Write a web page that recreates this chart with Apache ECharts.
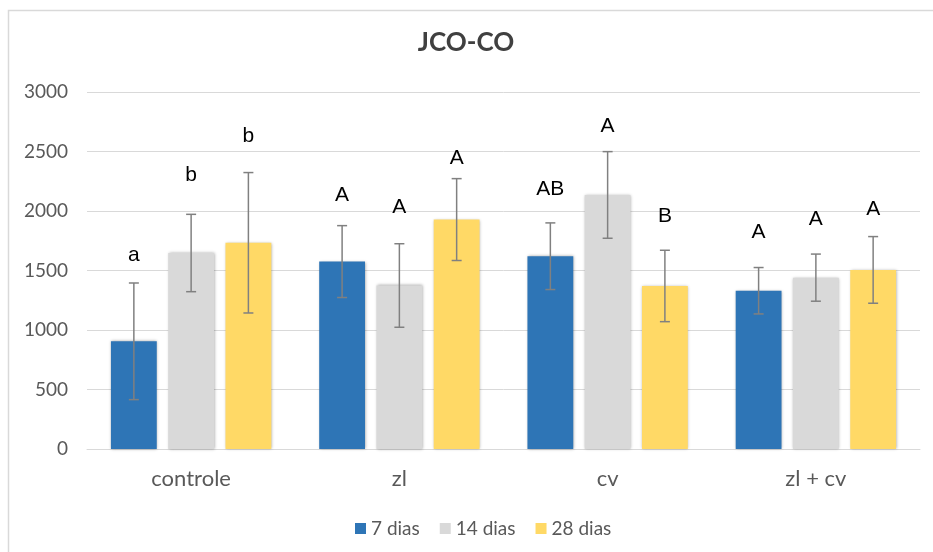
<!DOCTYPE html>
<html>
<head>
<meta charset="utf-8">
<script src="https://cdn.jsdelivr.net/npm/echarts@6/dist/echarts.min.js"></script>
<style>
html,body{margin:0;padding:0;background:#fff;}
#chart{width:933px;height:552px;}
</style>
</head>
<body>
<div id="chart"></div>
<script>
var categories = ['controle', 'zl', 'cv', 'zl + cv'];
var seriesNames = ['7 dias', '14 dias', '28 dias'];
var mean7 = [905, 1575, 1620, 1330];
var mean14 = [1647, 1374, 2135, 1440];
var mean28 = [1733, 1928, 1370, 1505];
var err7 = [490, 302, 280, 195];
var err14 = [325, 351, 364, 198];
var err28 = [590, 344, 300, 280];
var letters7 = ['a', 'A', 'AB', 'A'];
var letters14 = ['b', 'A', 'A', 'A'];
var letters28 = ['b', 'A', 'B', 'A'];
var letterPos7 = [1630, 2134, 2185, 1826];
var letterPos14 = [2303, 2036, 2714, 1933];
var letterPos28 = [2630, 2445, 1958, 2017];
var yTicks = [0, 500, 1000, 1500, 2000, 2500, 3000];

var colors = ['#2E75B6', '#D9D9D9', '#FFD966'];
var means = [mean7, mean14, mean28];
var errs = [err7, err14, err28];
var letters = [letters7, letters14, letters28];
var letterPos = [letterPos7, letterPos14, letterPos28];

var BAR_W_RATIO = 0.22;
var BAR_GAP = 0.25;

var errData = [];
var letterData = [];
for (var s = 0; s < 3; s++) {
  for (var c = 0; c < categories.length; c++) {
    errData.push([c, s, means[s][c], errs[s][c]]);
    letterData.push([c, s, letterPos[s][c], letters[s][c]]);
  }
}

function offsetFor(api, s) {
  var band = api.size([1, 0])[0];
  var bw = band * BAR_W_RATIO;
  return (s - 1) * bw * (1 + BAR_GAP);
}

var chart = echarts.init(document.getElementById('chart'), null, {renderer: 'canvas'});
var barSeries = seriesNames.map(function (name, i) {
  return {
    name: name,
    type: 'bar',
    data: means[i],
    barWidth: (BAR_W_RATIO * 100) + '%',
    barGap: (BAR_GAP * 100) + '%',
    itemStyle: {
      color: colors[i],
      shadowColor: 'rgba(0,0,0,0.35)',
      shadowBlur: 3,
      shadowOffsetX: 0.5,
      shadowOffsetY: 0
    },
    emphasis: {disabled: true},
    z: 2
  };
});

var option = {
  backgroundColor: '#fff',
  animation: false,
  title: {
    text: 'JCO-CO',
    left: 461,
    top: 25,
    textAlign: 'center',
    textStyle: {fontFamily: 'Lato', fontWeight: 'bold', fontSize: 26, color: '#404040'}
  },
  legend: {
    data: seriesNames,
    top: 514,
    left: 350,
    itemWidth: 11,
    itemHeight: 11,
    itemGap: 20,
    icon: 'rect',
    textStyle: {fontFamily: 'Lato', fontSize: 19, color: '#595959'}
  },
  grid: {left: 87, right: 13, top: 92, bottom: 103, containLabel: false},
  xAxis: {
    type: 'category',
    data: categories,
    axisTick: {show: false},
    axisLine: {lineStyle: {color: '#D9D9D9', width: 1}},
    axisLabel: {fontFamily: 'Lato', fontSize: 22, color: '#595959', margin: 19}
  },
  yAxis: {
    type: 'value',
    min: yTicks[0],
    max: yTicks[yTicks.length - 1],
    interval: 500,
    axisLine: {show: false},
    axisTick: {show: false},
    splitLine: {lineStyle: {color: '#D9D9D9', width: 1}},
    axisLabel: {
      fontFamily: 'Lato', fontSize: 19, color: '#595959', margin: 19,
      formatter: function (v) { return String(v); }
    }
  },
  graphic: [{
    type: 'polyline',
    shape: {points: [[8.5, 552], [8.5, 10.5], [933, 10.5]]},
    style: {stroke: '#D9D9D9', lineWidth: 1.5, fill: null},
    silent: true
  }],
  series: barSeries.concat([
    {
      type: 'custom',
      name: 'err',
      data: errData,
      z: 5,
      silent: true,
      renderItem: function (params, api) {
        var c = api.value(0), s = api.value(1), m = api.value(2), e = api.value(3);
        var off = offsetFor(api, s);
        var hi = api.coord([c, m + e]);
        var lo = api.coord([c, m - e]);
        var x = hi[0] + off;
        var cap = 5;
        var st = {stroke: '#808080', lineWidth: 1.5};
        return {
          type: 'group',
          children: [
            {type: 'line', shape: {x1: x, y1: hi[1], x2: x, y2: lo[1]}, style: st},
            {type: 'line', shape: {x1: x - cap, y1: hi[1], x2: x + cap, y2: hi[1]}, style: st},
            {type: 'line', shape: {x1: x - cap, y1: lo[1], x2: x + cap, y2: lo[1]}, style: st}
          ]
        };
      }
    },
    {
      type: 'custom',
      name: 'letters',
      data: letterData,
      z: 6,
      silent: true,
      renderItem: function (params, api) {
        var c = api.value(0), s = api.value(1), v = api.value(2);
        var txt = letterData[params.dataIndex][3];
        var off = offsetFor(api, s);
        var p = api.coord([c, v]);
        return {
          type: 'text',
          style: {
            text: txt,
            x: p[0] + off,
            y: p[1],
            textAlign: 'center',
            textVerticalAlign: 'middle',
            font: '21px "Liberation Sans", Arial, sans-serif',
            fill: '#000'
          }
        };
      }
    }
  ])
};
chart.setOption(option);
</script>
</body>
</html>
